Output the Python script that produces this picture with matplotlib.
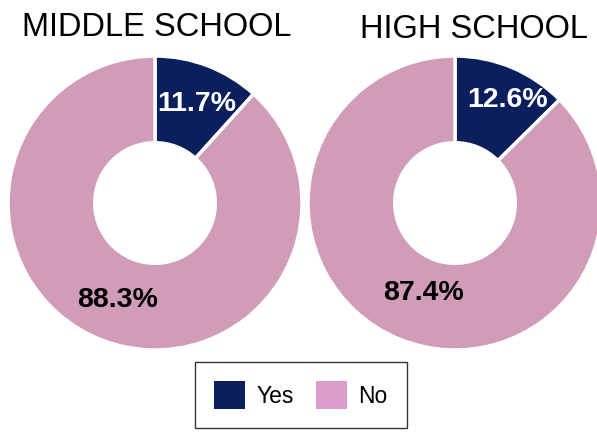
import matplotlib
matplotlib.use("Agg")
import matplotlib.pyplot as plt
from matplotlib.patches import Patch

plt.rcParams['font.family'] = ['Liberation Sans', 'DejaVu Sans']

categories = ["Yes", "No"]
schools = ["MIDDLE SCHOOL", "HIGH SCHOOL"]
middle_values = [11.7, 88.3]
high_values = [12.6, 87.4]
pie_colors = ["#0b1f5c", "#d09cb8"]
legend_colors = ["#0b1f5c", "#dc9ccc"]

W, H = 597, 433
fig = plt.figure(figsize=(W / 100, H / 100), dpi=100)

def px_axes(cx, cy, r):
    return fig.add_axes([(cx - r) / W, (H - cy - r) / H, 2 * r / W, 2 * r / H])

specs = [
    (middle_values, 155, 203, 147, [(197, 104, 'white'), (118, 300, 'black')], (157, 27)),
    (high_values, 455, 203, 147, [(508, 100, 'white'), (423, 293, 'black')], (474, 29)),
]

for (vals, cx, cy, r, lab, tpos), name in zip(specs, schools):
    ax = px_axes(cx, cy, r)
    ax.pie(vals, colors=pie_colors, startangle=90, counterclock=False,
           wedgeprops=dict(width=0.59, edgecolor='white', linewidth=2.5))
    ax.set_xlim(-1, 1)
    ax.set_ylim(-1, 1)
    ax.set_aspect('equal')
    ax.axis('off')
    for v, (lx, ly, c) in zip(vals, lab):
        fig.text(lx / W, 1 - ly / H, f"{v}%", color=c, fontsize=20.5,
                 fontweight='bold', ha='center', va='center')
    fig.text(tpos[0] / W, 1 - tpos[1] / H, name, fontsize=23.5,
             ha='center', va='center', color='black')

handles = [Patch(facecolor=c, edgecolor='none', label=l) for c, l in zip(legend_colors, categories)]
leg = fig.legend(handles=handles, loc='upper center',
                 bbox_to_anchor=(301 / W, 1 - 362 / H), ncol=2, fontsize=16.5,
                 frameon=True, fancybox=False, edgecolor='black',
                 handlelength=1.35, handleheight=1.45, borderpad=0.85,
                 borderaxespad=0, columnspacing=0.95, handletextpad=0.5)
leg.get_frame().set_linewidth(1.0)

fig.savefig("out.png", dpi=100)
